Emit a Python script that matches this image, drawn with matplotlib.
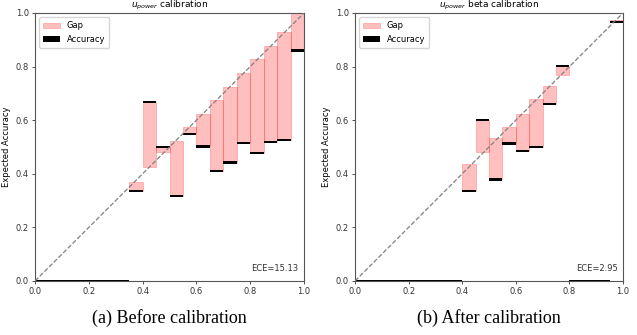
import numpy as np
import matplotlib
matplotlib.use("Agg")
import matplotlib.pyplot as plt

# 20 bins of width 0.05, empty bins have acc = conf = 0
bin_lowers = np.arange(0, 1, 0.05)

acc_before = [0, 0, 0, 0, 0, 0, 0, 0.335, 0.667, 0.500, 0.318, 0.548, 0.502, 0.411,
              0.442, 0.516, 0.477, 0.518, 0.525, 0.860]
conf_before = [0, 0, 0, 0, 0, 0, 0, 0.370, 0.427, 0.483, 0.521, 0.573, 0.624, 0.676,
               0.725, 0.776, 0.828, 0.875, 0.930, 1.000]

acc_after = [0, 0, 0, 0, 0, 0, 0, 0, 0.335, 0.600, 0.379, 0.513, 0.486, 0.500,
             0.659, 0.803, 0, 0, 0, 0.968]
conf_after = [0, 0, 0, 0, 0, 0, 0, 0, 0.438, 0.482, 0.532, 0.574, 0.625, 0.678,
              0.727, 0.768, 0, 0, 0, 0.975]

titles = ["$u_{power}$ calibration", "$u_{power}$ beta calibration"]
ece_vals = ["ECE=15.13", "ECE=2.95"]
captions = ["(a) Before calibration", "(b) After calibration"]

fig = plt.figure(figsize=(6.37, 3.35), dpi=100)
ax1 = fig.add_axes([35 / 637, 1 - 281 / 335, 269 / 637, 268 / 335])
ax2 = fig.add_axes([355 / 637, 1 - 281 / 335, 268 / 637, 268 / 335])

fs = 6
for ax, acc, conf, title, ece in zip([ax1, ax2], [acc_before, acc_after],
                                      [conf_before, conf_after], titles, ece_vals):
    acc = np.array(acc)
    conf = np.array(conf)
    w = 0.05
    ax.bar(bin_lowers, np.abs(conf - acc), bottom=np.minimum(conf, acc), width=w,
           align="edge", color="r", edgecolor="r", alpha=0.25, linewidth=0.6,
           label="Gap", zorder=2)
    ax.bar(bin_lowers, 0.008, bottom=acc - 0.004, width=w, align="edge",
           color="black", label="Accuracy", zorder=3)
    ax.plot([0, 1], [0, 1], "--", color="gray", linewidth=0.9, zorder=4)
    ax.set_xlim(0, 1)
    ax.set_ylim(0, 1)
    ax.set_title(title, fontsize=fs + 0.5, pad=4)
    ax.set_ylabel("Expected Accuracy", fontsize=fs, labelpad=3)
    ax.set_xticks([0, 0.2, 0.4, 0.6, 0.8, 1.0])
    ax.set_yticks([0, 0.2, 0.4, 0.6, 0.8, 1.0])
    ax.tick_params(labelsize=fs, length=2.5, width=0.6, colors="#333333", pad=2)
    for s in ax.spines.values():
        s.set_color("#555555")
        s.set_linewidth(0.8)
    ax.legend(loc="upper left", fontsize=fs, handlelength=2, borderpad=0.5,
              labelspacing=0.5)
    ax.text(0.98, 0.03, ece, transform=ax.transAxes, ha="right", va="bottom",
            fontsize=fs, color="#333333")

for ax, cap in zip([ax1, ax2], captions):
    pos = ax.get_position()
    fig.text((pos.x0 + pos.x1) / 2, 17 / 335, cap, ha="center", va="center",
             fontsize=13, family="Liberation Serif")

fig.savefig("out.png", dpi=100)
